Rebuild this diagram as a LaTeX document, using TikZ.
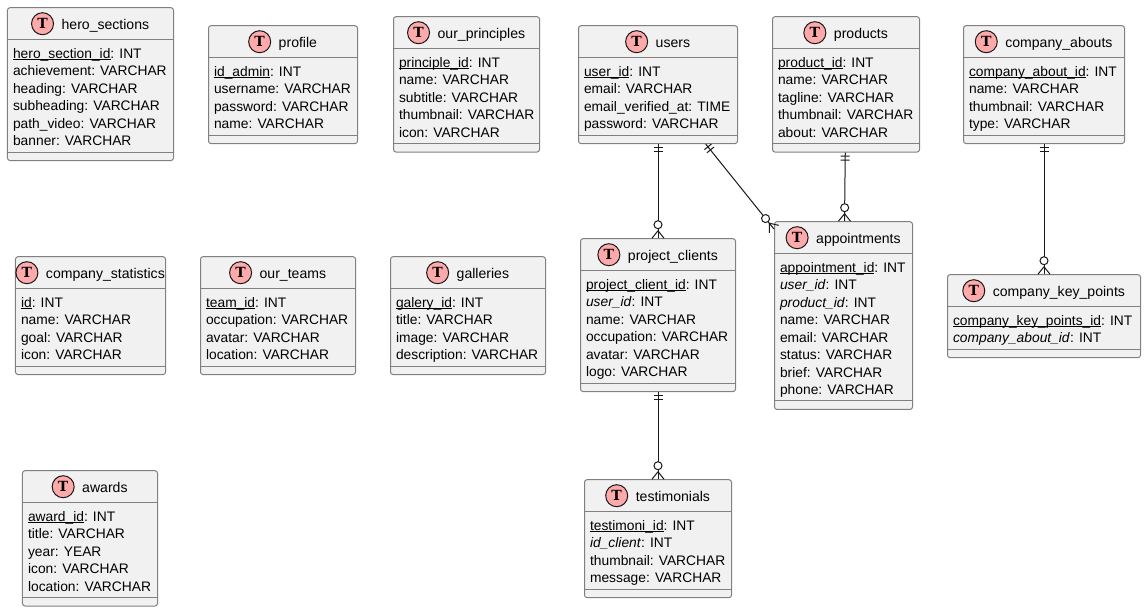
\documentclass[tikz,border=0pt]{standalone}
\usepackage{fontspec}
\setmainfont{Liberation Sans}
\newfontfamily\tfont{DejaVu Serif}
\usetikzlibrary{calc}
\definecolor{boxfill}{HTML}{F1F1F1}
\definecolor{boxline}{HTML}{808080}
\definecolor{ink}{HTML}{181818}
\definecolor{spot}{HTML}{FFAAAA}
\tikzset{
  x=.75pt,y=.75pt,
  entity/.style={draw=boxline,fill=boxfill,line width=.75pt,rounded corners=1.9pt,inner sep=0pt,anchor=north west},
  titletext/.style={inner sep=0pt,anchor=base,font=\fontsize{10.55pt}{12pt}\selectfont,text=black},
  rowtext/.style={inner sep=0pt,anchor=base west,font=\fontsize{10.35pt}{12pt}\selectfont,text=black},
  spotmark/.style={circle,draw=ink,fill=spot,line width=.75pt,minimum size=16.5pt,inner sep=0pt,font=\fontsize{10.5pt}{12pt}\selectfont\tfont\bfseries},
  rel/.style={draw=ink,line width=.75pt},
  relend/.style={draw=ink,line width=.75pt,fill=white},
}
\newlength\ulw
\newcommand{\pk}[1]{\settowidth\ulw{#1}\leavevmode\rlap{\rule[-1.5pt]{\ulw}{.6pt}}#1}
\newcommand{\fk}[1]{\textit{#1}}
% \entity{name}{title}{x0}{x1}{top}{nrows}{rows}
\newcommand{\entity}[7]{%
  \pgfmathsetmacro\bw{#4-#3}%
  \pgfmathsetmacro\bh{48+17.47*#6}%
  \node[entity,minimum width=\bw*.75pt,minimum height=\bh*.75pt] (#1) at (#3,-#5) {};
  \draw[draw=boxline,line width=.75pt] (#3,-#5-32) -- (#4,-#5-32);
  \draw[draw=boxline,line width=.75pt] (#3,-#5-\bh+8) -- (#4,-#5-\bh+8);
  \node[titletext] (#1-title) at ({(#3+#4)/2+15.4},-#5-21.8) {#2};
  \node[spotmark] (#1-spot) at ([shift={(-18.8,5.3)}]#1-title.base west) {T};
  \foreach \r [count=\ri from 0] in {#7} {
    \node[rowtext] (#1-row\ri) at (#3+5.8,-#5-51-17.47*\ri) {\r};
  }
}
% \erlink{from}{to}
\newcommand{\erlink}[2]{%
  \path (#1) -- (#2) coordinate[pos=0] (#1-#2-s) coordinate[pos=1] (#1-#2-e);
  \draw[rel] (#1-#2-s) -- (#1-#2-e);
  \path let \p1=($(#1-#2-e)-(#1-#2-s)$), \n1={atan2(\y1,\x1)} in
    \pgfextra{\xdef\relang{\n1}};
  \begin{scope}[shift={(#1-#2-s)},rotate=\relang]
    \draw[rel] (3.5,-4.5) -- (3.5,4.5);
    \draw[rel] (7.5,-4.5) -- (7.5,4.5);
  \end{scope}
  \begin{scope}[shift={(#1-#2-e)},rotate=\relang]
    \draw[rel] (-7.5,0) -- (0,6);
    \draw[rel] (-7.5,0) -- (0,-6);
    \draw[relend] (-13.5,0) circle[radius=4];
  \end{scope}
}
\begin{document}
\begin{tikzpicture}
\useasboundingbox (0.5,-0.3) rectangle (1146.5,-612.3);
\entity{hero}{hero\_sections}{7.5}{173.5}{7.5}{6}{\pk{hero\_section\_id}: INT,achievement: VARCHAR,heading: VARCHAR,subheading: VARCHAR,path\_video: VARCHAR,banner: VARCHAR}
\entity{profile}{profile}{208.5}{357.5}{25.5}{4}{\pk{id\_admin}: INT,username: VARCHAR,password: VARCHAR,name: VARCHAR}
\entity{principles}{our\_principles}{393.5}{539.5}{16.5}{5}{\pk{principle\_id}: INT,name: VARCHAR,subtitle: VARCHAR,thumbnail: VARCHAR,icon: VARCHAR}
\entity{users}{users}{578.5}{737.5}{25.5}{4}{\pk{user\_id}: INT,email: VARCHAR,email\_verified\_at: TIME,password: VARCHAR}
\entity{products}{products}{772.5}{919.5}{16.5}{5}{\pk{product\_id}: INT,name: VARCHAR,tagline: VARCHAR,thumbnail: VARCHAR,about: VARCHAR}
\entity{abouts}{company\_abouts}{963.5}{1124.5}{25.5}{4}{\pk{company\_about\_id}: INT,name: VARCHAR,thumbnail: VARCHAR,type: VARCHAR}
\entity{stats}{company\_statistics}{15.5}{165.5}{256.5}{4}{\pk{id}: INT,name: VARCHAR,goal: VARCHAR,icon: VARCHAR}
\entity{teams}{our\_teams}{200.5}{355.5}{256.5}{4}{\pk{team\_id}: INT,occupation: VARCHAR,avatar: VARCHAR,location: VARCHAR}
\entity{galleries}{galleries}{390.5}{545.5}{256.5}{4}{\pk{galery\_id}: INT,title: VARCHAR,image: VARCHAR,description: VARCHAR}
\entity{clients}{project\_clients}{580.5}{735.5}{238.5}{6}{\pk{project\_client\_id}: INT,\fk{user\_id}: INT,name: VARCHAR,occupation: VARCHAR,avatar: VARCHAR,logo: VARCHAR}
\entity{appointments}{appointments}{774.5}{912.5}{221.5}{8}{\pk{appointment\_id}: INT,\fk{user\_id}: INT,\fk{product\_id}: INT,name: VARCHAR,email: VARCHAR,status: VARCHAR,brief: VARCHAR,phone: VARCHAR}
\entity{keypoints}{company\_key\_points}{947.5}{1140.5}{274.5}{2}{\pk{company\_key\_points\_id}: INT,\fk{company\_about\_id}: INT}
\entity{awards}{awards}{22.5}{157.5}{470.5}{5}{\pk{award\_id}: INT,title: VARCHAR,year: YEAR,icon: VARCHAR,location: VARCHAR}
\entity{testimonials}{testimonials}{584.5}{731.5}{479.5}{4}{\pk{testimoni\_id}: INT,\fk{id\_client}: INT,thumbnail: VARCHAR,message: VARCHAR}
\erlink{users}{clients}
\erlink{users}{appointments}
\erlink{products}{appointments}
\erlink{abouts}{keypoints}
\erlink{clients}{testimonials}
\end{tikzpicture}
\end{document}
